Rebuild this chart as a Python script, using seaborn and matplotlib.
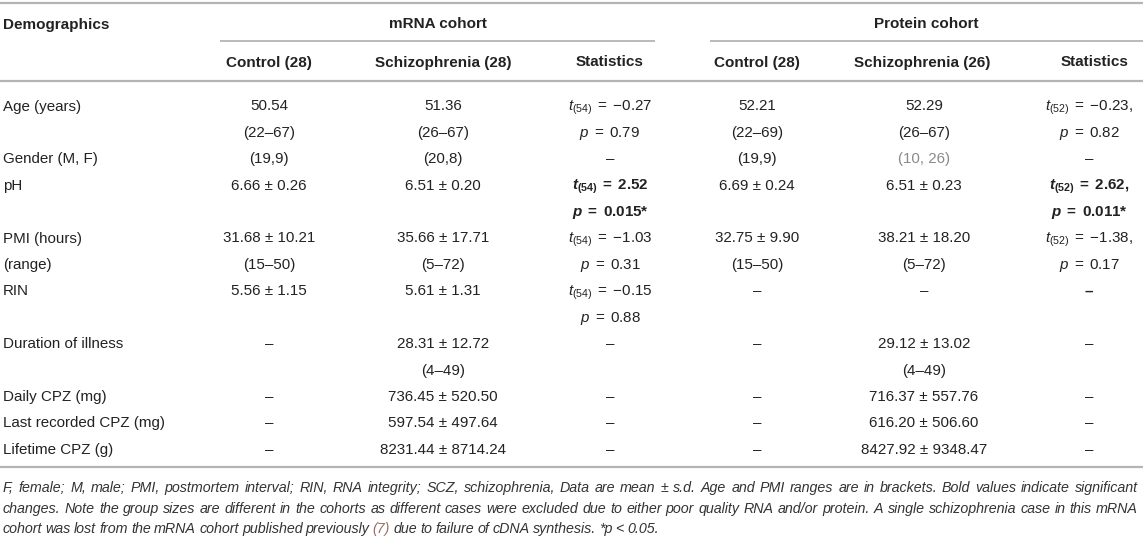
import matplotlib
matplotlib.use("Agg")
import matplotlib.pyplot as plt
import seaborn as sns

# table content
row_labels = ["Age (years)", "", "Gender (M, F)", "pH", "", "PMI (hours)", "(range)",
              "RIN", "", "Duration of illness", "", "Daily CPZ (mg)",
              "Last recorded CPZ (mg)", "Lifetime CPZ (g)"]
mrna_control = ["50.54", "(22–67)", "(19,9)", "6.66 ± 0.26", "", "31.68 ± 10.21", "(15–50)",
                "5.56 ± 1.15", "", "–", "", "–", "–", "–"]
mrna_scz = ["51.36", "(26–67)", "(20,8)", "6.51 ± 0.20", "", "35.66 ± 17.71", "(5–72)",
            "5.61 ± 1.31", "", "28.31 ± 12.72", "(4–49)", "736.45 ± 520.50",
            "597.54 ± 497.64", "8231.44 ± 8714.24"]
mrna_stats = ["t(54) = −0.27", "p = 0.79", "–", "t(54) = 2.52", "p = 0.015*", "t(54) = −1.03",
              "p = 0.31", "t(54) = −0.15", "p = 0.88", "–", "", "–", "–", "–"]
protein_control = ["52.21", "(22–69)", "(19,9)", "6.69 ± 0.24", "", "32.75 ± 9.90", "(15–50)",
                   "–", "", "–", "", "–", "–", "–"]
protein_scz = ["52.29", "(26–67)", "(10, 26)", "6.51 ± 0.23", "", "38.21 ± 18.20", "(5–72)",
               "–", "", "29.12 ± 13.02", "(4–49)", "716.37 ± 557.76",
               "616.20 ± 506.60", "8427.92 ± 9348.47"]
protein_stats = ["t(52) = −0.23,", "p = 0.82", "–", "t(52) = 2.62,", "p = 0.011*", "t(52) = −1.38,",
                 "p = 0.17", "–", "", "–", "", "–", "–", "–"]

group_headers = ["mRNA cohort", "Protein cohort"]
sub_headers = ["Control (28)", "Schizophrenia (28)", "Statistics",
               "Control (28)", "Schizophrenia (26)", "Statistics"]

footnote_lines = [
    "F, female; M, male; PMI, postmortem interval; RIN, RNA integrity; SCZ, schizophrenia, Data are mean ± s.d. Age and PMI ranges are in brackets. Bold values indicate significant",
    "changes. Note the group sizes are different in the cohorts as different cases were excluded due to either poor quality RNA and/or protein. A single schizophrenia case in this mRNA",
    "cohort was lost from the mRNA cohort published previously (7) due to failure of cDNA synthesis. *p < 0.05.",
]

# styling flags
bold_lines = {"mrna_stats": [3, 4], "protein_stats": [3, 4, 7]}
muted_cells = {"protein_scz": [2]}

sns.set_theme(style="white")
plt.rcParams["font.family"] = ["Liberation Sans", "DejaVu Sans"]
plt.rcParams["mathtext.fontset"] = "custom"
plt.rcParams["mathtext.rm"] = "Liberation Sans"
plt.rcParams["mathtext.it"] = "Liberation Sans:italic"
plt.rcParams["mathtext.bf"] = "Liberation Sans:bold"
plt.rcParams["mathtext.bfit"] = "Liberation Sans:italic:bold"

W, H = 1143, 536
fig = plt.figure(figsize=(W / 100, H / 100), dpi=100)
ax = fig.add_axes([0, 0, 1, 1])
ax.set_xlim(0, W)
ax.set_ylim(H, 0)
ax.axis("off")

TXT = "#222222"
RULE = "#b4b4b4"
FS = 10.9
FS_HEAD = 11.0
BASE = 5.5  # baseline offset from line centre

col_x = [3, 269, 443, 610, 757, 924, 1089]
head_x = [269, 443, 610, 757, 922, 1095]
line_y = [105 + 26.4 * k for k in range(len(row_labels))]


def fmt_stat(s, bold):
    # slightly wider spacing around "=" like typeset maths
    if " = " not in s:
        return s
    lhs, rhs = s.split(" = ", 1)
    tail = r"$\,$ = $\,$" + rhs
    if lhs.startswith("t("):
        sub = lhs[1:]
        if bold:
            return r"$\mathbfit{t}_{\mathbf{" + sub + "}}$" + tail
        return r"$t_{\mathrm{" + sub + "}}$" + tail
    return (r"$\mathbfit{p}$" if bold else "$p$") + tail


# rules
ax.hlines([3, 81, 467], 0, W, color=RULE, lw=1.6)
ax.hlines(40.5, 220, 655, color=RULE, lw=1.3)
ax.hlines(40.5, 710, W, color=RULE, lw=1.3)

# headers
ax.text(3, 23 + BASE, "Demographics", fontsize=FS_HEAD, weight="bold", color=TXT, va="baseline")
ax.text(438, 23 + BASE, group_headers[0], fontsize=FS_HEAD, weight="bold", color=TXT,
        ha="center", va="baseline")
ax.text(926, 23 + BASE, group_headers[1], fontsize=FS_HEAD, weight="bold", color=TXT,
        ha="center", va="baseline")
for x, h in zip(head_x, sub_headers):
    ax.text(x, 61 + BASE, h, fontsize=FS_HEAD, weight="bold", color=TXT, ha="center",
            va="baseline")

# body
for y, lab in zip(line_y, row_labels):
    ax.text(col_x[0], y + BASE, lab, fontsize=FS, color=TXT, va="baseline")

columns = [("mrna_control", mrna_control), ("mrna_scz", mrna_scz), ("mrna_stats", mrna_stats),
           ("protein_control", protein_control), ("protein_scz", protein_scz),
           ("protein_stats", protein_stats)]
for x, (name, vals) in zip(col_x[1:], columns):
    for i, (y, v) in enumerate(zip(line_y, vals)):
        if not v:
            continue
        bold = i in bold_lines.get(name, [])
        color = "#8a8a8a" if i in muted_cells.get(name, []) else TXT
        s = fmt_stat(v, bold) if name.endswith("stats") else v
        ax.text(x, y + BASE, s, fontsize=FS, color=color, ha="center", va="baseline",
                weight="bold" if bold else "normal")

# justified italic footnote
renderer = fig.canvas.get_renderer()
foot_y = [487, 508, 528]
x0, x1 = 3, 1138
for k, (line, y) in enumerate(zip(footnote_lines, foot_y)):
    words = line.split(" ")
    texts = []
    for w in words:
        c = "#9a6f66" if w == "(7)" else "#333333"
        texts.append(ax.text(0, y + 5, w, fontsize=10.3, style="italic", color=c,
                             va="baseline"))
    widths = [t.get_window_extent(renderer).width for t in texts]
    if k < len(footnote_lines) - 1:
        gap = (x1 - x0 - sum(widths)) / (len(words) - 1)
    else:
        gap = 3.2
    x = x0
    for t, w in zip(texts, widths):
        t.set_x(x)
        x += w + gap

fig.savefig("out.png", dpi=100)
